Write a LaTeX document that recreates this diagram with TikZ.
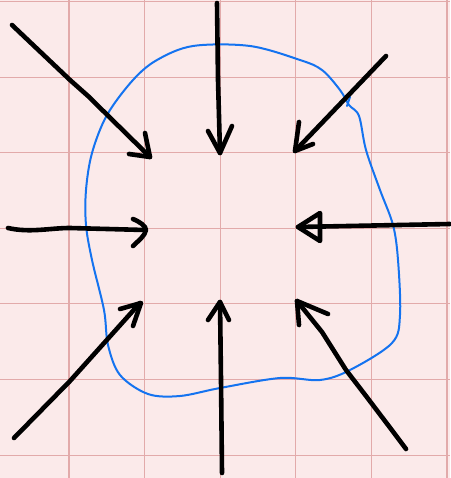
\documentclass[tikz,border=0pt]{standalone}
\usetikzlibrary{calc}
\definecolor{bgpink}{HTML}{FBEAEA}
\definecolor{gridred}{HTML}{E2AAAA}
\definecolor{penblue}{HTML}{1473F0}
\tikzset{
  ink/.style={line width=4.6pt, line cap=round, line join=round, black},
  blob/.style={line width=2pt, penblue, line cap=round, line join=round},
  gridline/.style={line width=1.1pt, gridred}
}
\begin{document}
\begin{tikzpicture}[x=1pt,y=-1pt]
\useasboundingbox (0,0) rectangle (450,478);
\fill[bgpink] (0,0) rectangle (450,478);
% grid
\foreach \gx in {69,144.6,220.2,295.8,371.4,447}
  \draw[gridline] (\gx,0) -- (\gx,478);
\foreach \gy in {1.5,77.1,152.7,228.3,303.9,379.5,455.1}
  \draw[gridline] (0,\gy) -- (450,\gy);
% blue closed curve
\draw[blob] plot[smooth cycle, tension=0.55] coordinates {
 (193,46) (250,46) (300,60) (322,70) (340,90) (349,105) (359,116)
 (366,150) (380,190) (393,225) (398,260) (400,315) (392,343)
 (350,370) (320,380) (280,378) (220,388) (180,396) (148,394)
 (120,375) (108,345) (104,310) (92,260) (86,225) (86,190)
 (92,153) (107,115) (133,80) (157,60)};
\draw[blob] (347,106) -- (350,97);
% arrow 1: top-left
\draw[ink] (12,25) -- (70,80) -- (88,96) -- (150,157);
\draw[ink] (145,133) -- (150,157) -- (129,154);
% arrow 2: top
\draw[ink] (217,3) -- (218,80) -- (220,153);
\draw[ink] (208,131) -- (220,153) -- (232,126);
% arrow 3: top-right
\draw[ink] (386,56) -- (295,151);
\draw[ink] (299,122) -- (295,151) -- (313,144);
% arrow 4: left
\draw[ink] (8,228) .. controls (30,233) and (50,228) .. (70,228) -- (145,230);
\draw[ink] (133,219) .. controls (140,222) and (146,226) .. (146,230) .. controls (145,236) and (138,241) .. (133,246);
% arrow 5: right (open triangle head)
\draw[ink] (450,224) -- (298,227);
\draw[ink] (298,227) -- (320,213) -- (320,241) -- cycle;
% arrow 6: bottom-left
\draw[ink] (14,438) -- (70,381) -- (140,303);
\draw[ink] (120,309) -- (141,303) -- (133,326);
% arrow 7: bottom
\draw[ink] (222,473) -- (221,380) -- (220,302);
\draw[ink] (208,320) -- (220,302) -- (229,320);
% arrow 8: bottom-right
\draw[ink] (406,449) -- (388,425) -- (366,396) -- (346,370) -- (322,332) -- (297,301);
\draw[ink] (299,325) -- (297,301) -- (328,314);
\end{tikzpicture}
\end{document}
